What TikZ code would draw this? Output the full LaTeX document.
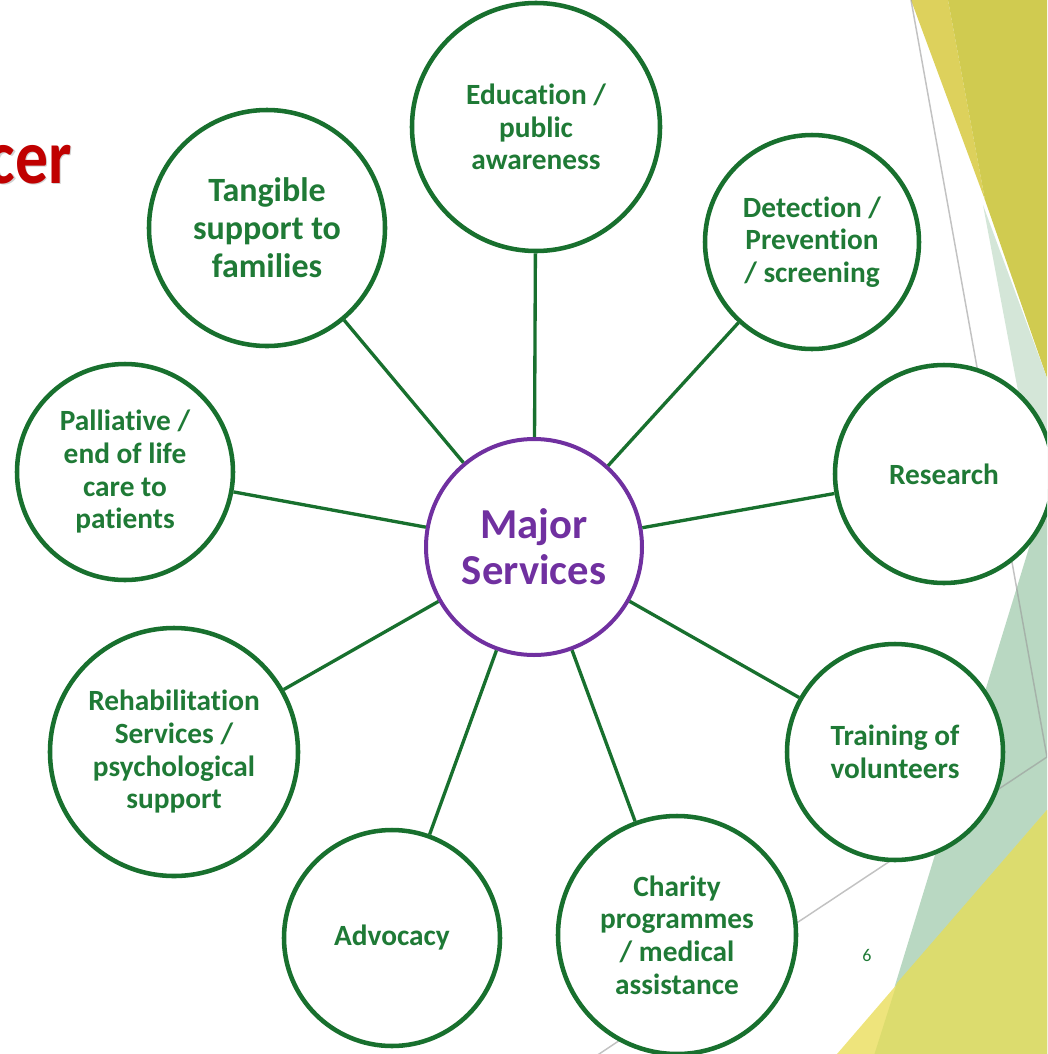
\documentclass[tikz,border=0pt]{standalone}
\usepackage{fontspec}
\setmainfont{Carlito}[Ligatures={NoCommon}]
\definecolor{cgreen}{HTML}{18702E}
\definecolor{tgreen}{HTML}{1F7A36}
\definecolor{mpurple}{HTML}{7030A0}
\definecolor{tred}{HTML}{C00000}
\definecolor{ylight}{HTML}{DDD15C}
\definecolor{ydark}{HTML}{D0CB50}
\definecolor{gpale}{HTML}{D4E6D8}
\definecolor{gmed}{HTML}{B9D8C2}
\definecolor{ylight2}{HTML}{EEE47C}
\definecolor{ydark2}{HTML}{DCDC6E}
\tikzset{
  svc/.style={circle, draw=cgreen, line width=3.4pt, fill=white, text=tgreen,
    align=center, inner sep=0pt, font=\fontsize{22}{24.5}\selectfont\bfseries},
  conn/.style={draw=cgreen, line width=2.5pt},
  thinline/.style={draw=black!40, opacity=0.6, line width=1.1pt},
  titletext/.style={anchor=base east, inner sep=0pt, font=\fontsize{58}{60}\selectfont\bfseries}
}
\begin{document}
\begin{tikzpicture}[x=0.75pt,y=-0.75pt]
\useasboundingbox (0,0) rectangle (1047,1054);
\clip (0,0) rectangle (1047,1054);
% background decorations
\fill[ylight] (911,0) -- (948,0) -- (985,200) -- cycle;
\fill[ydark] (948,0) -- (1047,0) -- (1047,378) -- (985,200) -- cycle;
\fill[gpale] (983,205) -- (1047,378) -- (1047,545) -- cycle;
\fill[gmed] (1047,489) -- (874,1054) -- (1047,1054) -- cycle;
\fill[ylight2] (837,1054) -- (1047,810) -- (1047,1054) -- cycle;
\fill[ydark2] (874.5,1054) -- (897,983) -- (1047,810) -- (1047,1054) -- cycle;
\draw[thinline] (911,0) -- (1047,757) -- (590,1060);
% title fragment
\node[titletext, text=black!18] (titleshadow) at (73.5,184.5) {\scalebox{0.85}[1]{cer}};
\node[titletext, text=tred] (title) at (72,183) {\scalebox{0.85}[1]{cer}};
% nodes
\node[svc, draw=mpurple, line width=3pt, text=mpurple, minimum size=162pt,
  font=\fontsize{32}{34.5}\selectfont\bfseries] (major) at (534,547) {Major\\Services};
\node[svc, minimum size=186pt] (edu) at (536,127) {Education /\\public\\awareness};
\node[svc, minimum size=177pt, font=\fontsize{25.5}{28.5}\selectfont\bfseries] (tang) at (267,228) {Tangible\\support to\\families};
\node[svc, minimum size=160.5pt] (det) at (812,242) {Detection /\\Prevention\\/ screening};
\node[svc, minimum size=162pt] (pall) at (125,472) {Palliative /\\end of life\\care to\\patients};
\node[svc, minimum size=163.5pt] (res) at (944,474) {Research};
\node[svc, minimum size=186pt] (rehab) at (174,752) {Rehabilitation\\Services /\\psychological\\support};
\node[svc, minimum size=162pt] (train) at (895,752) {Training of\\volunteers};
\node[svc, minimum size=162pt] (advo) at (392,938) {Advocacy};
\node[svc, minimum size=178.5pt] (charity) at (677,935) {Charity\\programmes\\/ medical\\assistance};
% connectors
\draw[conn] (major) -- (edu);
\draw[conn] (major) -- (tang);
\draw[conn] (major) -- (det);
\draw[conn] (major) -- (pall);
\draw[conn] (major) -- (res);
\draw[conn] (major) -- (rehab);
\draw[conn] (major) -- (train);
\draw[conn] (major) -- (advo);
\draw[conn] (major) -- (charity);
% page number
\node[text=tgreen, font=\fontsize{13.5}{15}\selectfont] (pagenum) at (867,955) {6};
\end{tikzpicture}
\end{document}
